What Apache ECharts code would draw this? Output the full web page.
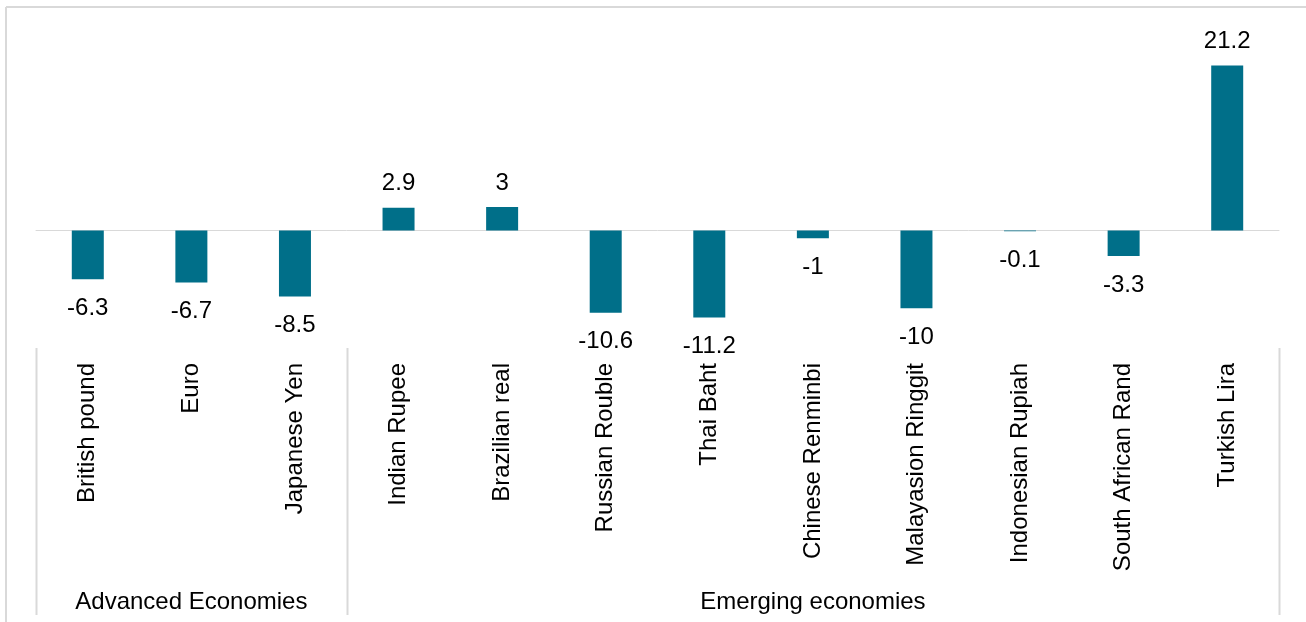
<!DOCTYPE html>
<html>
<head>
<meta charset="utf-8">
<script src="https://cdn.jsdelivr.net/npm/echarts@6/dist/echarts.min.js"></script>
<style>
html, body { margin: 0; padding: 0; background: #fff; }
#chart { width: 1306px; height: 622px; }
</style>
</head>
<body>
<div id="chart"></div>
<script>
var currencies = ['British pound', 'Euro', 'Japanese Yen', 'Indian Rupee', 'Brazilian real',
    'Russian Rouble', 'Thai Baht', 'Chinese Renminbi', 'Malayasion Ringgit',
    'Indonesian Rupiah', 'South African Rand', 'Turkish Lira'];
var changes = [-6.3, -6.7, -8.5, 2.9, 3, -10.6, -11.2, -1, -10, -0.1, -3.3, 21.2];
var groupNames = ['Advanced Economies', 'Emerging economies'];
var groupSizes = [3, 9];

var fontFamily = 'Liberation Sans, Arial, sans-serif';
var gridColor = '#d9d9d9';

var dom = document.getElementById('chart');
var myChart = echarts.init(dom);

option = {
    animation: false,
    grid: { left: 36, right: 27, top: 36, height: 311 },
    xAxis: [
        {
            type: 'category',
            data: currencies,
            axisLine: { onZero: true, lineStyle: { color: gridColor, width: 1 } },
            axisTick: { show: false },
            axisLabel: { show: false }
        },
        {
            type: 'category',
            data: currencies,
            position: 'bottom',
            axisLine: { show: false },
            axisTick: { show: false },
            axisLabel: {
                rotate: 90,
                margin: 16,
                interval: 0,
                color: '#000',
                fontSize: 24,
                fontFamily: fontFamily
            }
        }
    ],
    yAxis: {
        type: 'value',
        min: -15,
        max: 25,
        show: false,
        splitLine: { show: false }
    },
    series: [
        {
            type: 'bar',
            barWidth: 32,
            data: changes.map(function (v) {
                return {
                    value: v,
                    label: v >= 0 ? { position: 'top', distance: 12 } : { position: 'bottom', distance: 17 }
                };
            }),
            itemStyle: { color: '#006F89' },
            label: {
                show: true,
                color: '#000',
                fontSize: 24,
                fontFamily: fontFamily
            }
        }
    ]
};
myChart.setOption(option, true);

// group labels and separators under the category axis
var half = (myChart.convertToPixel({ xAxisIndex: 0 }, 1) - myChart.convertToPixel({ xAxisIndex: 0 }, 0)) / 2;
var gridBottom = myChart.convertToPixel({ yAxisIndex: 0 }, -15);
var graphics = [
    { type: 'line', shape: { x1: 6, y1: 7, x2: 1306, y2: 7 }, style: { stroke: gridColor, lineWidth: 2 } },
    { type: 'line', shape: { x1: 6, y1: 7, x2: 6, y2: 622 }, style: { stroke: gridColor, lineWidth: 2 } }
];
var start = 0;
var edges = [myChart.convertToPixel({ xAxisIndex: 0 }, 0) - half];
groupNames.forEach(function (name, i) {
    var end = start + groupSizes[i] - 1;
    var x0 = myChart.convertToPixel({ xAxisIndex: 0 }, start) - half;
    var x1 = myChart.convertToPixel({ xAxisIndex: 0 }, end) + half;
    edges.push(x1);
    graphics.push({
        type: 'text',
        x: (x0 + x1) / 2,
        y: 602,
        style: {
            text: name,
            fill: '#000',
            fontSize: 24,
            fontFamily: fontFamily,
            align: 'center',
            verticalAlign: 'middle'
        }
    });
    start = end + 1;
});
edges.forEach(function (x) {
    graphics.push({
        type: 'line',
        shape: { x1: Math.round(x) + 0.5, y1: gridBottom + 1, x2: Math.round(x) + 0.5, y2: 615 },
        style: { stroke: gridColor, lineWidth: 2 }
    });
});
myChart.setOption({ graphic: graphics });
</script>
</body>
</html>
